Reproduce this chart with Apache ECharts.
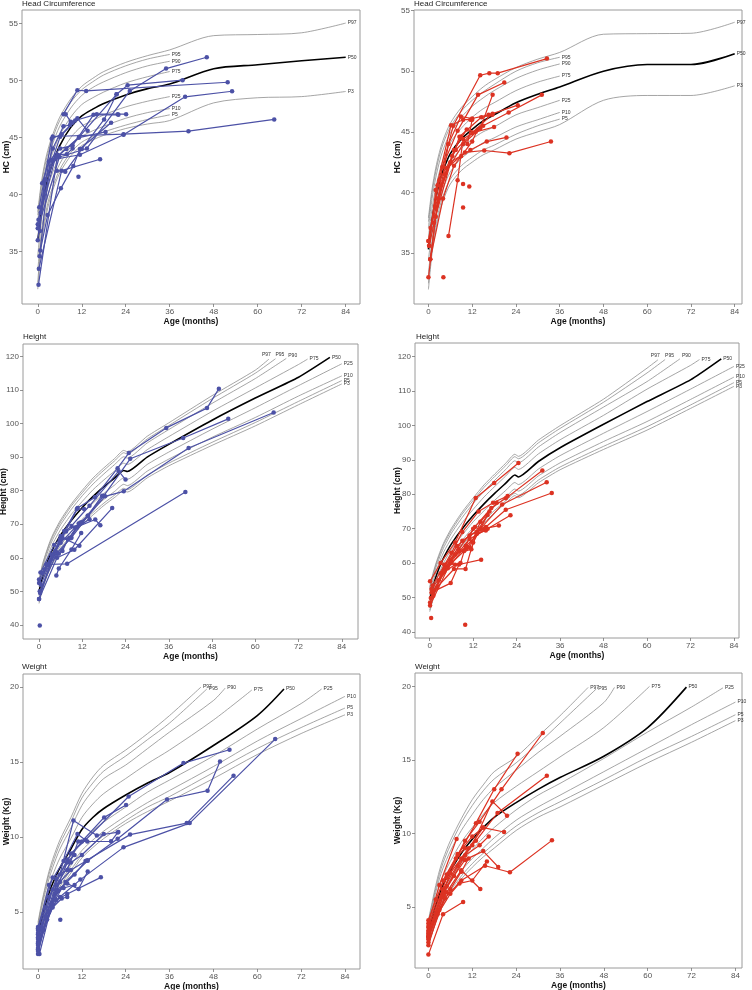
<!DOCTYPE html>
<html><head><meta charset="utf-8">
<script src="https://cdn.jsdelivr.net/npm/echarts@6/dist/echarts.min.js"></script>
<style>html,body{margin:0;padding:0;background:#fff}#c{width:752px;height:990px}</style>
</head><body><div id="c"></div>
<script>
// ---------- tick labels ----------
const ageTicks = [0, 12, 24, 36, 48, 60, 72, 84];
const hcTicks = [35, 40, 45, 50, 55];
const htTicks = [40, 50, 60, 70, 80, 90, 100, 110, 120];
const wtTicks = [5, 10, 15, 20];
const pctNames = ['P3', 'P5', 'P10', 'P25', 'P50', 'P75', 'P90', 'P95', 'P97'];

// ---------- Head circumference reference curves ----------
const hcAges = [0, 1, 2, 3, 4, 6, 9, 12, 15, 18, 24, 30, 36];
const hcAgesLong = [0, 1, 2, 3, 4, 6, 9, 12, 15, 18, 24, 30, 36, 48, 60, 72, 84];
// boys (left)
const hcBoysP3  = [31.7,35.6,37.7,39.2,40.3,41.9,43.4,44.3,44.8,45.2,45.8,46.2,46.5,48.05,48.5,48.6,49.05];
const hcBoysP5  = [32.3,36.1,38.1,39.6,40.6,42.2,43.7,44.6,45.1,45.5,46.1,46.6,47.0];
const hcBoysP10 = [33.3,36.8,38.8,40.2,41.2,42.7,44.2,45.1,45.6,46.0,46.7,47.2,47.55];
const hcBoysP25 = [34.6,37.8,39.6,40.9,41.9,43.4,45.0,46.0,46.5,47.0,47.7,48.2,48.6];
const hcBoysP50 = [35.9,38.6,40.4,41.7,42.7,44.3,45.9,46.9,47.5,48.0,48.75,49.3,49.7,51.05,51.4,51.75,52.05];
const hcBoysP75 = [36.9,39.5,41.3,42.6,43.6,45.2,46.8,47.9,48.5,49.0,49.8,50.35,50.8];
const hcBoysP90 = [37.7,40.3,42.1,43.4,44.4,46.0,47.6,48.7,49.4,49.9,50.7,51.3,51.7];
const hcBoysP95 = [38.2,40.8,42.6,43.9,44.9,46.5,48.1,49.2,49.9,50.5,51.3,51.9,52.3];
const hcBoysP97 = [38.5,41.1,42.9,44.2,45.2,46.8,48.4,49.5,50.2,50.8,51.6,52.2,52.7,53.95,54.05,54.2,55.05];
// girls (right)
const hcGirlsP3  = [32.0,35.0,36.9,38.3,39.3,40.7,41.8,42.5,43.1,43.5,44.4,45.0,45.6,47.6,48.0,48.0,48.8];
const hcGirlsP5  = [32.5,35.4,37.3,38.7,39.7,41.1,42.2,42.9,43.5,43.9,44.8,45.5,46.05];
const hcGirlsP10 = [33.3,36.1,38.0,39.3,40.3,41.7,42.8,43.5,44.1,44.5,45.4,46.0,46.6];
const hcGirlsP25 = [34.4,37.0,38.8,40.1,41.1,42.5,43.6,44.4,45.0,45.4,46.4,47.0,47.6];
const hcGirlsP50 = [35.3,37.8,39.5,40.8,41.8,43.2,44.4,45.2,45.9,46.4,47.4,48.1,48.7,50.0,50.55,50.55,51.45];
const hcGirlsP75 = [36.3,38.7,40.4,41.7,42.7,44.1,45.3,46.2,46.9,47.4,48.4,49.1,49.6];
const hcGirlsP90 = [37.1,39.5,41.2,42.5,43.5,44.9,46.2,47.1,47.8,48.4,49.4,50.1,50.6];
const hcGirlsP95 = [37.6,40.0,41.7,43.0,44.0,45.4,46.7,47.6,48.3,48.9,50.0,50.7,51.15];
const hcGirlsP97 = [37.9,40.3,42.0,43.3,44.3,45.7,47.0,47.9,48.7,49.3,50.3,51.0,51.55,53.05,53.1,53.13,54.04];

// ---------- Height reference curves ----------
const htAges = [0, 1, 2, 3, 4, 6, 9, 12, 15, 18, 21, 23.5, 24.5, 30, 36, 48, 60, 72, 84];
const htBoysP3  = [46.4,50.7,53.9,56.6,58.7,62.3,66.3,69.9,72.8,75.6,78.0,80.0,79.6,83.8,87.4,93.5,99.3,105.6,111.8];
const htBoysP5  = [46.9,51.2,54.3,57.1,59.2,62.9,66.9,70.6,73.5,76.3,78.7,80.7,80.3,84.6,88.2,94.4,100.3,106.6,112.8];
const htBoysP10 = [47.6,51.9,55.1,57.9,60.1,63.7,67.9,71.5,74.6,77.4,79.8,81.9,81.5,85.8,89.4,95.9,101.8,108.2,114.2];
const htBoysP25 = [48.7,53.2,56.4,59.2,61.5,65.2,69.4,73.2,76.3,79.2,81.7,83.8,83.4,87.8,91.5,98.3,104.7,111.3,117.8];
const htBoysP50 = [50.0,54.5,57.8,60.7,63.0,66.8,71.2,75.0,78.3,81.2,83.8,86.0,85.7,90.0,93.8,101.0,107.6,113.8];
const htBoysP75 = [51.3,55.8,59.2,62.2,64.6,68.4,73.0,76.8,80.3,83.2,85.9,88.2,87.8,92.2,96.1,103.6,110.6,117.6];
const htBoysP90 = [52.4,57.1,60.5,63.5,65.9,69.9,74.5,78.5,82.0,85.0,87.8,90.1,89.7,94.2,98.2,106.0,113.4];
const htBoysP95 = [53.1,57.8,61.3,64.3,66.8,70.7,75.5,79.4,83.1,86.1,88.9,91.3,90.9,95.4,99.4,107.4,115.0];
const htBoysP97 = [53.6,58.3,61.7,64.8,67.3,71.3,76.1,80.1,83.8,86.8,89.6,92.0,91.6,96.2,100.2,108.3,115.9];
const htBoysEnds = { P50: [80.7, 119.7], P75: [74.5, 119.2], P90: [68.6, 119.4], P95: [65.6, 119.3], P97: [63.8, 119.2] };
const htGirlsP3  = [45.9,49.8,53.0,55.5,57.6,61.1,65.1,68.7,71.7,74.7,77.4,79.6,79.0,83.3,87.1,93.0,98.6,104.9,111.3];
const htGirlsP5  = [46.4,50.3,53.4,56.0,58.1,61.7,65.7,69.4,72.4,75.4,78.1,80.3,79.7,84.1,87.9,93.9,99.6,105.9,112.4];
const htGirlsP10 = [47.1,51.0,54.2,56.8,59.0,62.5,66.7,70.3,73.5,76.5,79.2,81.5,80.9,85.3,89.1,95.3,101.1,107.5,114.0];
const htGirlsP25 = [48.2,52.3,55.5,58.1,60.4,64.0,68.2,72.0,75.2,78.3,81.1,83.4,82.8,87.3,91.2,97.7,104.0,110.5,117.1];
const htGirlsP50 = [49.5,53.6,56.9,59.6,61.9,65.6,70.0,73.8,77.2,80.3,83.2,85.6,85.0,89.5,93.5,100.3,106.9,113.2];
const htGirlsP75 = [50.8,54.9,58.3,61.1,63.5,67.2,71.8,75.6,79.2,82.3,85.3,87.8,87.2,91.7,95.8,102.9,110.5,117.4];
const htGirlsP90 = [51.9,56.2,59.6,62.4,64.8,68.7,73.3,77.3,80.9,84.1,87.2,89.7,89.1,93.7,97.9,105.3,112.7];
const htGirlsP95 = [52.6,56.9,60.4,63.2,65.7,69.5,74.3,78.2,82.0,85.2,88.3,90.9,90.3,94.9,99.1,106.7,115.2];
const htGirlsP97 = [53.1,57.4,60.8,63.7,66.2,70.1,74.9,78.9,82.7,85.9,89.0,91.6,91.0,95.7,99.9,107.6,116.6];
const htGirlsEnds = { P50: [80.5, 119.3], P75: [74.5, 119.1], P90: [69.1, 119.3], P95: [65.0, 119.1], P97: [63.0, 119.0] };

// ---------- Weight reference curves ----------
const wtAges = [0, 1, 2, 3, 4, 6, 9, 12, 15, 18, 24, 30, 36, 48, 60, 72, 84];
const wtBoysP3  = [2.6,3.4,4.3,5.0,5.6,6.5,7.6,8.6,9.3,9.9,10.9,11.7,12.4,13.9,15.5,16.9,18.15];
const wtBoysP5  = [2.75,3.55,4.45,5.15,5.75,6.7,7.8,8.8,9.5,10.1,11.1,12.0,12.7,14.3,15.9,17.3,18.6];
const wtBoysP10 = [2.9,3.75,4.65,5.35,5.95,6.9,8.1,9.1,9.8,10.4,11.4,12.3,13.1,14.7,16.4,17.9,19.38];
const wtBoysP25 = [3.15,4.1,5.0,5.75,6.35,7.4,8.6,9.7,10.4,11.0,12.0,13.0,13.8,15.4,17.2,18.9];
const wtBoysP50 = [3.45,4.5,5.45,6.25,6.9,7.95,9.2,10.5,11.3,11.9,12.8,13.6,14.3,16.1,18.1];
const wtBoysP75 = [3.75,4.9,5.9,6.75,7.45,8.6,9.9,11.3,12.2,12.9,13.9,14.9,15.8,17.8];
const wtBoysP90 = [4.0,5.25,6.3,7.2,7.95,9.2,10.6,12.1,13.1,13.9,14.8,15.9,17.0,19.1];
const wtBoysP95 = [4.15,5.45,6.55,7.5,8.25,9.55,11.0,12.6,13.6,14.4,15.4,16.5,17.6];
const wtBoysP97 = [4.3,5.6,6.7,7.7,8.5,9.8,11.3,12.9,14.0,14.8,15.8,16.9,18.1];
const wtBoysEnds = { P25: [77.6, 19.87], P50: [67.3, 19.87], P75: [58.5, 19.8], P90: [51.2, 19.93], P95: [46.2, 19.87], P97: [44.6, 20.0] };
const wtGirlsP3  = [2.5,3.2,4.0,4.6,5.1,5.9,6.9,7.7,8.4,9.0,10.2,11.1,11.8,13.3,14.8,16.2,17.67];
const wtGirlsP5  = [2.6,3.35,4.15,4.75,5.3,6.1,7.1,7.95,8.65,9.3,10.5,11.4,12.15,13.65,15.2,16.6,18.07];
const wtGirlsP10 = [2.75,3.55,4.35,5.0,5.55,6.4,7.45,8.3,9.0,9.7,10.9,11.8,12.6,14.2,15.8,17.4,18.93];
const wtGirlsP25 = [3.0,3.85,4.7,5.4,6.0,6.9,8.0,8.9,9.7,10.4,11.6,12.6,13.4,15.1,16.9,18.6];
const wtGirlsP50 = [3.3,4.2,5.1,5.85,6.5,7.45,8.65,9.6,10.4,11.1,12.1,13.0,13.8,15.25,17.2];
const wtGirlsP75 = [3.6,4.6,5.55,6.4,7.1,8.1,9.4,10.4,11.3,12.1,13.2,14.2,15.2,17.2];
const wtGirlsP90 = [3.85,4.95,6.0,6.9,7.65,8.8,10.2,11.3,12.3,13.1,14.3,15.5,16.6,18.9];
const wtGirlsP95 = [4.0,5.15,6.25,7.2,8.0,9.2,10.7,11.9,12.9,13.7,14.8,16.1,17.5];
const wtGirlsP97 = [4.1,5.3,6.45,7.45,8.25,9.5,11.0,12.3,13.3,14.2,15.2,16.6,18.0];
const wtGirlsEnds = { P25: [80.6, 19.9], P50: [70.6, 19.95], P75: [60.5, 20.0], P90: [50.9, 19.93], P95: [45.9, 19.82], P97: [43.7, 19.93] };

// ---------- Patient measurements [age (months), value] ----------
const hcBoysPatients = [
  [[7,47.06],[10.8,49.16],[13.2,49.1],[51.8,49.86]],
  [[0.2,37.8],[4.1,43.0],[11.3,45.07],[21.5,48.8],[24.5,49.6],[39.5,50.04]],
  [[0,37.4],[2.1,41.3],[6.1,45.07],[10.2,46.5],[16.1,47.06],[21.8,47.06],[24.1,47.06]],
  [[0.5,34.6],[4.1,45.1],[23.4,45.3],[41.1,45.57],[64.5,46.6]],
  [[0.8,38.4],[4.7,43.1],[11.5,43.5],[23.4,45.25],[40.2,48.58],[53,49.07]],
  [[0.3,33.5],[6.5,42.1],[17,43.1]],
  [[0,37.04],[5.9,43.3],[13.4,44.05],[25.1,49.1],[35,51.06],[46.1,52.05]],
  [[0.7,35.1],[2.7,38.2],[6.3,40.55],[9.7,42.5],[11.5,44.0],[20,46.3]],
  [[11.1,41.57]],
  [[5.2,42.1],[7.5,42.0],[12,44.0],[18.1,46.6],[21.5,48.8]],
  [[1.2,41.0],[4.1,44.05],[7,46.0],[8.8,46.1],[10.8,46.7],[13.6,45.6]],
  [[0.2,32.1],[5.4,43.5],[7.9,43.55],[9.5,44.05]],
  [[7.6,47.06],[9,46.4]],
  [[0,36.0],[3,42.9],[6.1,44.05],[9.5,44.3],[15.2,47.0],[22,47.0]],
  [[0.4,38.9],[3.8,44.9],[6.5,45.3],[9.5,46.3]],
  [[0.6,36.8],[1.8,41.2],[5,43.3],[7.8,44.0],[11.2,45.0],[18.5,45.5]]
];
const hcGirlsPatients = [
  [[0,36.0],[2.5,40.6],[6.8,45.5],[14.2,49.67],[16.7,49.84],[19,49.84],[32.5,51.04]],
  [[0.5,34.5],[3.8,42.1],[8,45.1],[13.6,48.05],[20.8,49.07]],
  [[0.2,35.6],[4.5,41.5],[9.5,44.0],[15,45.5],[22,46.6],[31.1,48.05]],
  [[0,36.0],[3,41.0],[7.5,43.5],[12,44.9],[17.6,46.5],[24.5,47.2]],
  [[0.6,37.06],[5,42.0],[10,43.3],[15.3,43.46],[22.2,43.24],[33.6,44.2]],
  [[1.8,38.8],[6,42.5],[11.5,43.5],[16,44.2],[21.4,44.54]],
  [[5.5,36.4],[8,41.0],[9.5,44.4],[14.2,45.3],[17.6,48.05]],
  [[0,33.0],[2,38.0],[5.5,44.0],[8.9,46.26],[12,46.1],[16.5,46.4]],
  [[4.1,33.0]],
  [[9.5,38.76]],
  [[9.5,40.7]],
  [[11.2,40.5]],
  [[0.5,34.5],[4,39.5],[7,42.2],[9,43.0],[12,44.2],[13.5,45.2]],
  [[0.2,35.6],[2,40.2],[6.2,45.55],[9.5,46.0],[11.5,46.0]],
  [[1.5,37.5],[7,43.5],[10.5,45.2],[13,45.0],[18,45.4]],
  [[2.5,39.5],[8.5,44.6],[14.5,46.2],[17.5,46.4]],
  [[3.5,40.6],[6.5,43.0],[8.9,44.6],[10.7,44.0],[12,46.0]]
];
const htBoysPatients = [
  [[0,53.5],[3.5,61],[6.2,65.5],[10.7,74.8],[15.5,78],[21.8,86.7],[24.9,91.2],[35.3,98.7],[46.6,104.6],[49.9,110.4]],
  [[0.4,55.6],[4.2,63.8],[7.5,67.8],[12,70.6],[18,78.5],[25.3,89.5],[40,95.7],[52.5,101.4]],
  [[0.2,50],[5,61.5],[9,66],[13.6,72.5],[18.3,78.3],[23.5,79.8],[41.5,92.7],[65.1,103.3]],
  [[2,58],[7.8,58.2],[40.6,79.6]],
  [[0,47.7],[5,60],[9.8,62.4],[20.3,74.8]],
  [[0.2,39.8]],
  [[4.8,54.7],[5.5,56.8],[9,62.5],[11.7,67.4]],
  [[0,52.5],[4,61],[6.5,66],[11.2,63.6]],
  [[1,55.5],[6,64.5],[10,69.0],[15.6,71.4],[17,69.7]],
  [[0.3,49.5],[6,66.5],[9,69.5],[14,75.5],[22.1,85.8],[24,83.3]],
  [[2.5,58],[5.5,61.2],[8.5,66],[11,70.2],[13.5,72.5],[17.5,78.5]],
  [[1.5,56.5],[4.5,62.2],[7,68],[10.5,74.5],[12.5,74.5]],
  [[0.5,52],[5.8,65.5],[8.8,65.8],[10.5,69],[14,71.5]],
  [[0,47.7],[3.8,60.5],[6.5,62],[8,65.5],[11.5,70.5]]
];
const htGirlsPatients = [
  [[0.1,54.7],[3,60],[7,66],[12.7,78.9],[17.8,83.25],[24.5,89.05]],
  [[0.3,49.9],[4,58],[8,64],[12.5,70.5],[17,76],[21,78.8],[31.1,86.9]],
  [[0.1,48.6],[4.5,59],[9,66.5],[14,70],[20,77],[32.3,83.5]],
  [[0.1,47.7],[5,58.5],[10,65],[15.5,70.5],[21,75.5],[33.7,80.35]],
  [[1,52],[6,60.5],[11,67],[16,70],[22.3,73.9]],
  [[0.5,51.5],[5.8,54.2],[8.1,59.6],[14.2,61.0]],
  [[9.8,42.1]],
  [[0.4,44.1]],
  [[2,53],[6.7,58.3],[9.9,58.3],[12,66],[16,74]],
  [[3,57],[7.5,65],[11,68],[15,70],[19.1,70.9]],
  [[0.8,53.5],[6,63],[9,69],[13.5,75],[17.5,77.5],[21.5,79.5]],
  [[2.5,55],[7,62.5],[10,64],[13,68.5],[15.5,69.5]],
  [[1,50.5],[4,59.5],[8,63.5],[11,64.5],[14,72],[18.5,77.5]],
  [[3.5,57],[6,60],[9.5,63.5],[11.5,64],[13,69],[16.5,75]],
  [[0.5,52.5],[4,57.5],[7,59.5],[8.5,60],[10,65],[12,70]]
];
const wtBoysPatients = [
  [[0,3.5],[3,6],[6,7.5],[9.7,11.1],[16.1,10.1],[22,10.33]],
  [[0,3.2],[4,6.5],[8,8.5],[12,9.7],[18.1,11.31],[24.1,12.13]],
  [[0.4,2.2],[4.5,6.2],[9,8.9],[13,9.8],[24.8,12.7],[39.8,14.93],[52.4,15.82]],
  [[0,2.8],[4,5.5],[7.5,7.0],[13.6,8.42],[21.8,9.89],[35.3,12.5],[46.4,13.09],[49.8,15.04]],
  [[0,2.5],[3,5],[6,6],[11.6,7.16],[23.4,9.31],[41.5,10.93],[64.9,16.53]],
  [[0,3.0],[5,6.3],[10,7.5],[13,8.4],[25.2,10.16],[40.7,10.93],[53.5,14.09]],
  [[0,2.6],[2.5,4.5],[5,5.8],[8,6.2],[17.2,7.31]],
  [[6.1,4.49]],
  [[0,3.8],[3,6.8],[7,8.4],[10.8,10.2],[13.5,9.7]],
  [[0,4.0],[4,7.3],[8,7.8],[11,9.7],[20,9.71],[21.8,10.3]],
  [[0,3.3],[5,6.8],[9,8.3],[12,8.8],[18,10.2]],
  [[0,2.9],[2,4.7],[5,6.5],[8,6.9],[11.1,6.53],[13.6,7.7]],
  [[0,3.6],[3.5,5.5],[6,7.0],[9,7.8],[13.5,8.45]],
  [[0,2.4],[3,5.0],[5.5,6.4],[7,6.6],[10,6.8]],
  [[0,3.9],[2,5.3],[5,7.2],[8,8.3],[10,8.8]],
  [[0,2.2],[1.5,3.8],[4,5.3],[6.5,5.9],[8,6.0]]
];
const wtGirlsPatients = [
  [[0,3.0],[4,6.0],[8,8.5],[13,10.7],[18,13],[24.4,15.42]],
  [[0,3.6],[5,7],[10,9.5],[14,10.8],[20,13],[31.3,16.83]],
  [[0,3.2],[4,6.2],[9,8.3],[13,9.5],[18.9,11.39],[32.4,13.93]],
  [[0,2.6],[4.5,5.6],[9,6.8],[15.5,7.8],[22.3,7.36],[33.8,9.53]],
  [[0,2.9],[5,6.4],[10,8.2],[15,8.8],[19.1,7.72]],
  [[0,1.76],[4,4.5],[9.5,5.34]],
  [[0,3.9],[3,6.5],[7.7,9.62]],
  [[0,3.4],[6,7.3],[11,9],[15,10.4],[20.7,10.1]],
  [[0,3.1],[5,6],[9,7.5],[14.2,6.22]],
  [[0,2.8],[4,5.8],[8,7.8],[12,9.2],[17.5,12.18],[21.5,11.2]],
  [[0,3.7],[4,6.8],[8,8.6],[12,9.8],[15,10.4]],
  [[0,2.4],[3,4.8],[6,6.2],[9,7.4],[11,8.3]],
  [[0,4.1],[2,5.5],[5,7.2],[7.5,8.3],[10,9]],
  [[0,3.0],[2.5,4.5],[6,5.9],[8.5,6.6],[12,6.8],[16,8.1]],
  [[0,3.3],[3.5,5.7],[7,7.1],[10,8.5],[14,9.2],[16.5,9.8]]
];

// ---------- build ----------
const BLUE = '#4c51a6', RED = '#dc3222';
const FONT = 'Liberation Sans, Arial, sans-serif';
function zip(ages, vals, end) {
  const out = vals.map((v, i) => [ages[i], v]);
  if (end) out.push(end);
  return out;
}
function curvesOf(ages, arrs, ends, agesLong) {
  return arrs.map((vals, i) => {
    const name = pctNames[i];
    const a = (agesLong && vals.length === agesLong.length) ? agesLong : ages;
    return [name, zip(a, vals, ends ? ends[name] : null)];
  });
}
const hcBoysCurves = curvesOf(hcAges, [hcBoysP3,hcBoysP5,hcBoysP10,hcBoysP25,hcBoysP50,hcBoysP75,hcBoysP90,hcBoysP95,hcBoysP97], null, hcAgesLong);
const hcGirlsCurves = curvesOf(hcAges, [hcGirlsP3,hcGirlsP5,hcGirlsP10,hcGirlsP25,hcGirlsP50,hcGirlsP75,hcGirlsP90,hcGirlsP95,hcGirlsP97], null, hcAgesLong);
const htBoysCurves = curvesOf(htAges, [htBoysP3,htBoysP5,htBoysP10,htBoysP25,htBoysP50,htBoysP75,htBoysP90,htBoysP95,htBoysP97], htBoysEnds);
const htGirlsCurves = curvesOf(htAges, [htGirlsP3,htGirlsP5,htGirlsP10,htGirlsP25,htGirlsP50,htGirlsP75,htGirlsP90,htGirlsP95,htGirlsP97], htGirlsEnds);
const wtBoysCurves = curvesOf(wtAges, [wtBoysP3,wtBoysP5,wtBoysP10,wtBoysP25,wtBoysP50,wtBoysP75,wtBoysP90,wtBoysP95,wtBoysP97], wtBoysEnds);
const wtGirlsCurves = curvesOf(wtAges, [wtGirlsP3,wtGirlsP5,wtGirlsP10,wtGirlsP25,wtGirlsP50,wtGirlsP75,wtGirlsP90,wtGirlsP95,wtGirlsP97], wtGirlsEnds);

const htLabelOffsets = { P97: [-9, -4], P95: [-2, -4], P90: [0, -3] };
const panels = [
  { grid: {left:22, top:10, width:338, height:294}, x:[-4.3,87.9], y:[30.4,56.2], yTicks:hcTicks, yName:'HC (cm)', yGap:11,
    title:'Head Circumference', tPos:[22,0], curves:hcBoysCurves, patients:hcBoysPatients, color:BLUE, offs:{}, smooth:0.3 },
  { grid: {left:414, top:10, width:328, height:294}, x:[-3.96,86.0], y:[30.8,55.05], yTicks:hcTicks, yName:'HC (cm)', yGap:12,
    title:'Head Circumference', tPos:[414,0], curves:hcGirlsCurves, patients:hcGirlsPatients, color:RED, offs:{}, smooth:0.3 },
  { grid: {left:23, top:344, width:335, height:295}, x:[-4.45,88.5], y:[35.8,123.7], yTicks:htTicks, yName:'Height (cm)', yGap:15,
    title:'Height', tPos:[23,333], curves:htBoysCurves, patients:htBoysPatients, color:BLUE, offs:htLabelOffsets, smooth:0.2 },
  { grid: {left:415, top:343, width:324, height:295}, x:[-4.06,85.4], y:[38.26,123.9], yTicks:htTicks, yName:'Height (cm)', yGap:13,
    title:'Height', tPos:[416,333], curves:htGirlsCurves, patients:htGirlsPatients, color:RED, offs:htLabelOffsets, smooth:0.2 },
  { grid: {left:23, top:674, width:337, height:295}, x:[-4.1,88.1], y:[1.2,20.87], yTicks:wtTicks, yName:'Weight (Kg)', yGap:12,
    title:'Weight', tPos:[22,663], curves:wtBoysCurves, patients:wtBoysPatients, color:BLUE, offs:{}, smooth:0.3 },
  { grid: {left:415, top:673, width:327, height:295}, x:[-3.67,85.8], y:[0.85,20.91], yTicks:wtTicks, yName:'Weight (Kg)', yGap:13,
    title:'Weight', tPos:[415,663], curves:wtGirlsCurves, patients:wtGirlsPatients, color:RED, offs:{}, smooth:0.3 }
];

const option = { animation:false, textStyle:{fontFamily:FONT}, grid:[], xAxis:[], yAxis:[], title:[], series:[] };
panels.forEach((p, i) => {
  option.grid.push(Object.assign({show:true, borderColor:'#9a9a9a', borderWidth:1, backgroundColor:'#fff',
    containLabel:false, outerBoundsMode:'none'}, p.grid));
  option.title.push({text:p.title, left:p.tPos[0], top:p.tPos[1], padding:0,
    textStyle:{fontSize:8, fontWeight:'normal', color:'#222', fontFamily:FONT}});
  option.xAxis.push({gridIndex:i, type:'value', min:p.x[0], max:p.x[1],
    axisLine:{show:false, onZero:false}, splitLine:{show:false},
    axisTick:{show:true, customValues:ageTicks, length:3, lineStyle:{color:'#777', width:0.8}},
    axisLabel:{customValues:ageTicks, fontSize:8, color:'#555', margin:4, fontFamily:FONT},
    name:'Age (months)', nameLocation:'middle', nameGap:13, nameMoveOverlap:false,
    nameTextStyle:{fontSize:8.5, fontWeight:'bold', color:'#111', fontFamily:FONT, verticalAlign:'top'}});
  option.yAxis.push({gridIndex:i, type:'value', min:p.y[0], max:p.y[1],
    axisLine:{show:false, onZero:false}, splitLine:{show:false},
    axisTick:{show:true, customValues:p.yTicks, length:3, lineStyle:{color:'#777', width:0.8}},
    axisLabel:{customValues:p.yTicks, fontSize:8, color:'#555', margin:4, fontFamily:FONT},
    name:p.yName, nameLocation:'middle', nameRotate:90, nameGap:p.yGap, nameMoveOverlap:false,
    nameTextStyle:{fontSize:8.5, fontWeight:'bold', color:'#111', fontFamily:FONT}});
  p.curves.forEach(([name, pts]) => {
    const isMed = name === 'P50';
    option.series.push({type:'line', xAxisIndex:i, yAxisIndex:i, data:pts, symbol:'none', smooth:p.smooth,
      silent:true, z:2, clip:false,
      lineStyle:{color:isMed ? '#000' : '#8e8e8e', width:isMed ? 1.6 : 0.8},
      endLabel:{show:true, formatter:name, fontSize:5, color:'#333', distance:2, offset:p.offs[name] || [0,0], fontFamily:FONT}});
  });
  p.patients.forEach(tr => {
    option.series.push({type:'line', xAxisIndex:i, yAxisIndex:i, data:tr, symbol:'circle', symbolSize:4.5,
      showSymbol:true, showAllSymbol:true, silent:true, z:5,
      lineStyle:{color:p.color, width:1.2}, itemStyle:{color:p.color}});
  });
});
const chart = echarts.init(document.getElementById('c'), null, {renderer:'canvas'});
chart.setOption(option);
</script></body></html>
